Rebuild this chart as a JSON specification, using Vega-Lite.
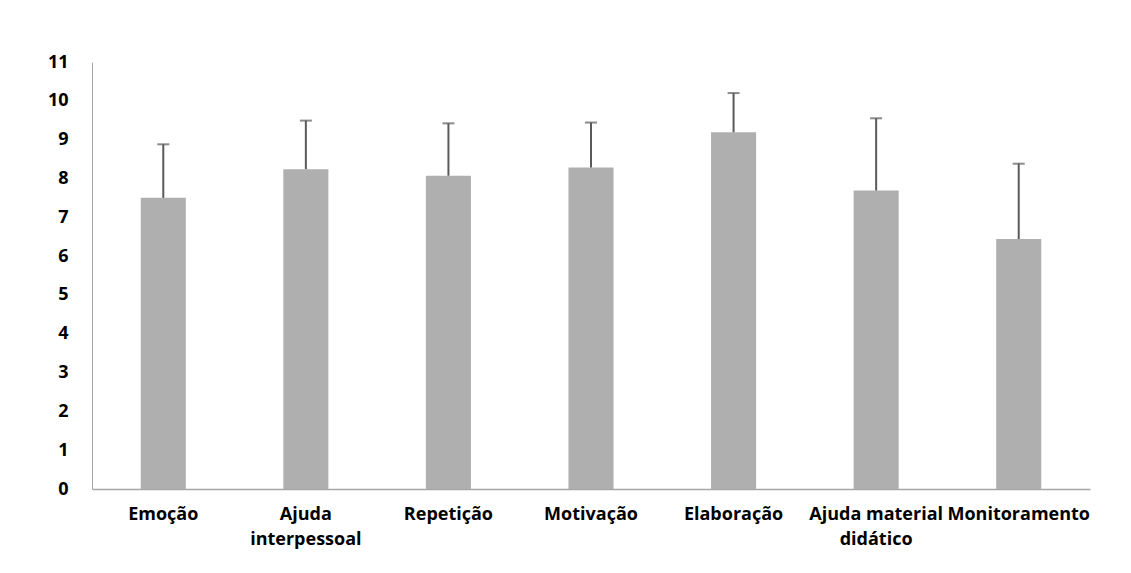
{
  "$schema": "https://vega.github.io/schema/vega-lite/v6.json",
  "autosize": "none",
  "width": 998,
  "height": 427,
  "padding": {"left": 92, "top": 62, "right": 41, "bottom": 84},
  "background": "white",
  "config": {"view": {"stroke": null}, "axisY": {"labelOverlap": false, "labelFlush": false}},
  "data": {
    "values": [
      {"category": "Emoção", "mean": 7.5, "upper": 8.88},
      {"category": "Ajuda interpessoal", "mean": 8.24, "upper": 9.49},
      {"category": "Repetição", "mean": 8.07, "upper": 9.42},
      {"category": "Motivação", "mean": 8.28, "upper": 9.44},
      {"category": "Elaboração", "mean": 9.19, "upper": 10.2},
      {"category": "Ajuda material didático", "mean": 7.69, "upper": 9.55},
      {"category": "Monitoramento", "mean": 6.44, "upper": 8.38}
    ]
  },
  "encoding": {
    "x": {
      "field": "category",
      "type": "nominal",
      "sort": null,
      "scale": {"paddingInner": 0, "paddingOuter": 0},
      "axis": {
        "title": null,
        "labelAngle": 0,
        "labelFont": "Open Sans",
        "labelFontWeight": "bold",
        "labelFontSize": 18,
        "labelColor": "black",
        "labelLimit": 300,
        "labelPadding": 16,
        "labelLineHeight": 25,
        "labelOverlap": false,
        "labelExpr": "datum.label == 'Ajuda interpessoal' ? ['Ajuda', 'interpessoal'] : datum.label == 'Ajuda material didático' ? ['Ajuda material', 'didático'] : datum.label",
        "ticks": false,
        "domainColor": "#A6A6A6",
        "domainWidth": 1.5,
        "grid": false
      }
    },
    "y": {
      "field": "mean",
      "type": "quantitative",
      "scale": {"domain": [0, 11], "nice": false},
      "axis": {
        "title": null,
        "values": [0,1,2,3,4,5,6,7,8,9,10,11],
        "labelFont": "Open Sans",
        "labelFontWeight": "bold",
        "labelFontSize": 18,
        "labelColor": "black",
        "labelPadding": 24,
        "labelOverlap": false,
        "labelFlush": false,
        "ticks": false,
        "grid": false,
        "domainColor": "#A6A6A6",
        "domainWidth": 1
      }
    }
  },
  "layer": [
    {
      "mark": {"type": "bar", "color": "#AFAFAF", "width": {"band": 0.316}}
    },
    {
      "mark": {"type": "rule", "color": "#5A5A5A", "strokeWidth": 2},
      "encoding": {
        "y2": {"field": "upper"}
      }
    },
    {
      "mark": {"type": "tick", "color": "#5A5A5A", "thickness": 2, "size": 12, "orient": "horizontal"},
      "encoding": {
        "y": {
          "field": "upper",
          "type": "quantitative",
          "scale": {"domain": [0, 11], "nice": false},
          "axis": {
            "title": null,
            "values": [0,1,2,3,4,5,6,7,8,9,10,11],
            "labelFont": "Open Sans",
            "labelFontWeight": "bold",
            "labelFontSize": 18,
            "labelColor": "black",
            "labelPadding": 24,
            "labelOverlap": false,
            "labelFlush": false,
            "ticks": false,
            "grid": false,
            "domainColor": "#A6A6A6",
            "domainWidth": 1
          }
        }
      }
    }
  ]
}
